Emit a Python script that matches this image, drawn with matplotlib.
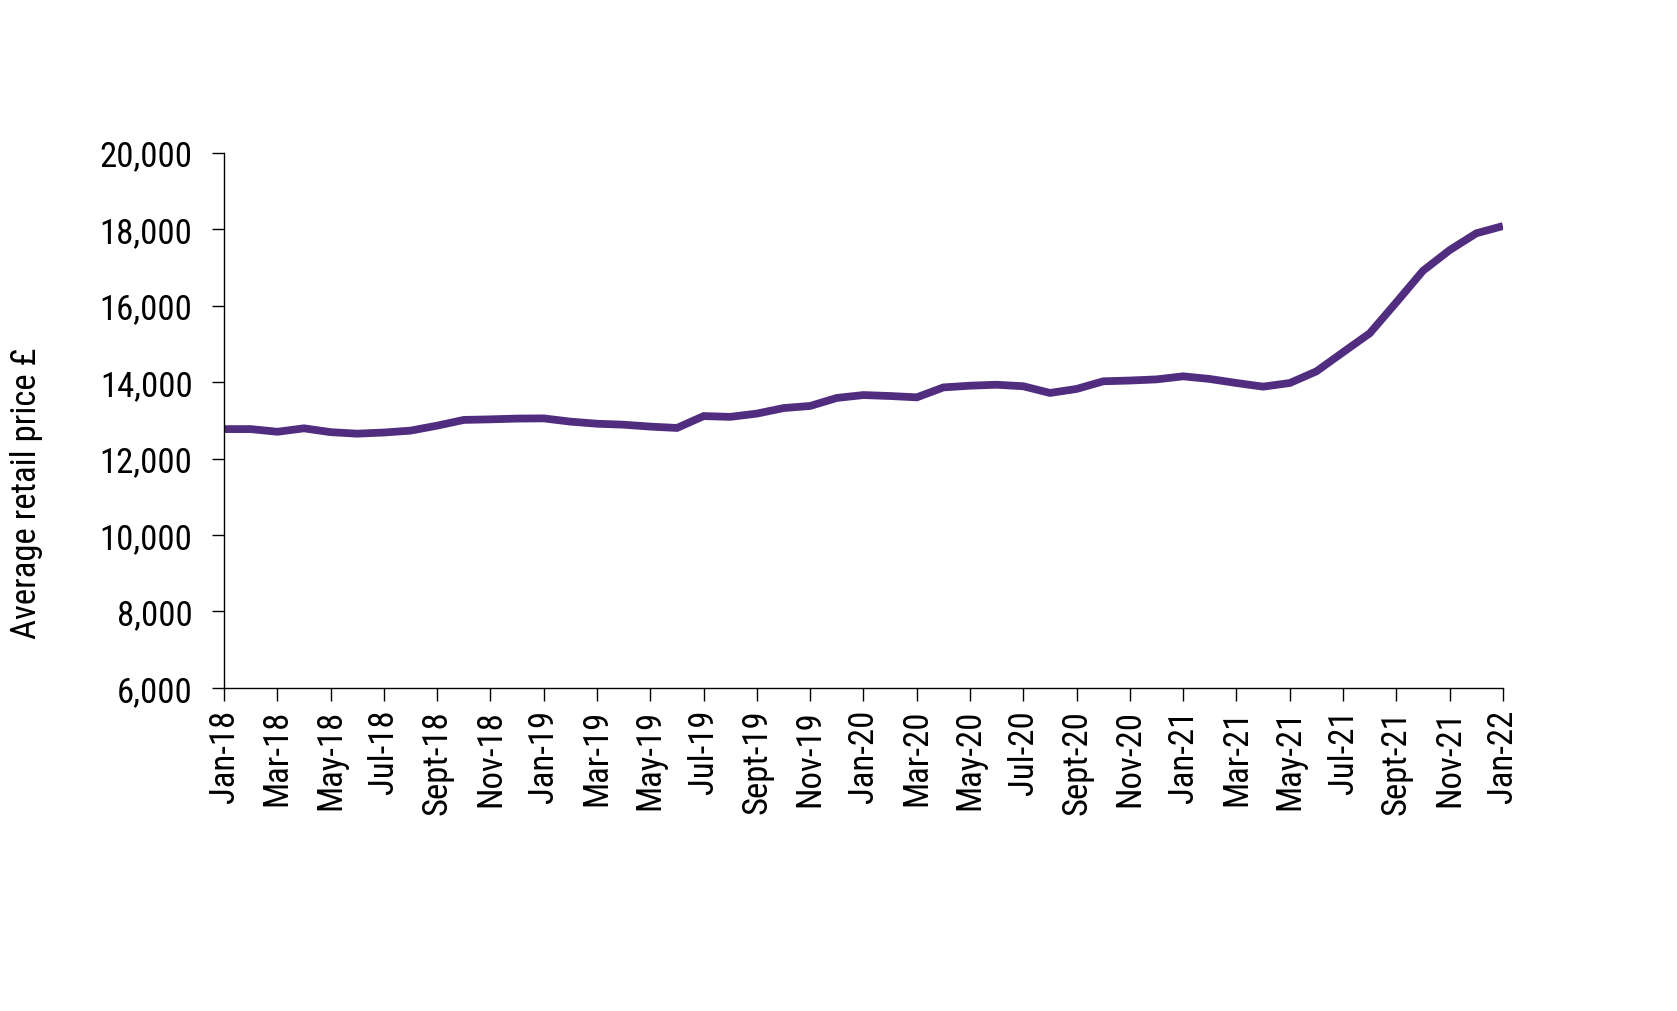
import matplotlib
matplotlib.use("Agg")
import matplotlib.pyplot as plt
from matplotlib import font_manager
import numpy as np

available = {f.name for f in font_manager.fontManager.ttflist}
narrow = [n for n in ['Liberation Sans Narrow', 'Roboto Condensed', 'Open Sans Condensed',
                      'Arial Narrow', 'DejaVu Sans Condensed'] if n in available]
if narrow:
    plt.rcParams['font.family'] = [narrow[0], 'DejaVu Sans']
    FS = 25
else:
    plt.rcParams['font.family'] = ['Liberation Sans', 'DejaVu Sans']
    FS = 23

months = ["Jan-18", "Feb-18", "Mar-18", "Apr-18", "May-18", "Jun-18", "Jul-18", "Aug-18",
          "Sept-18", "Oct-18", "Nov-18", "Dec-18",
          "Jan-19", "Feb-19", "Mar-19", "Apr-19", "May-19", "Jun-19", "Jul-19", "Aug-19",
          "Sept-19", "Oct-19", "Nov-19", "Dec-19",
          "Jan-20", "Feb-20", "Mar-20", "Apr-20", "May-20", "Jun-20", "Jul-20", "Aug-20",
          "Sept-20", "Oct-20", "Nov-20", "Dec-20",
          "Jan-21", "Feb-21", "Mar-21", "Apr-21", "May-21", "Jun-21", "Jul-21", "Aug-21",
          "Sept-21", "Oct-21", "Nov-21", "Dec-21",
          "Jan-22"]

prices = [12770, 12770, 12700, 12790, 12690, 12650, 12680, 12730, 12860, 13010, 13025, 13045,
          13050, 12965, 12910, 12885, 12835, 12800, 13110, 13090, 13175, 13320, 13375, 13585,
          13660, 13635, 13600, 13860, 13905, 13930, 13890, 13715, 13820, 14020, 14040, 14070,
          14150, 14080, 13975, 13880, 13975, 14280, 14780, 15275, 16085, 16910, 17450, 17890,
          18080]

y_ticks = [6000, 8000, 10000, 12000, 14000, 16000, 18000, 20000]

fig = plt.figure(figsize=(16.77, 10.12), dpi=100)
ax = fig.add_axes([0.1336, 0.3192, 0.7626, 0.529])

x = np.arange(len(months))
ax.plot(x, prices, color='#512D80', linewidth=5.6, solid_joinstyle='miter', solid_capstyle='butt')

ax.set_xlim(0, len(months) - 1)
ax.set_ylim(6000, 20000)
ax.set_yticks(y_ticks)
ax.set_yticklabels([f"{v:,}" for v in y_ticks])
ax.set_xticks(x[::2])
ax.set_xticklabels(months[::2], rotation=90)

for s in ['top', 'right']:
    ax.spines[s].set_visible(False)
for s in ['left', 'bottom']:
    ax.spines[s].set_color('black')
    ax.spines[s].set_linewidth(1.0)

ax.tick_params(axis='y', direction='out', length=8.6, width=1.0, pad=14, labelsize=FS, colors='black')
ax.tick_params(axis='x', direction='out', length=9, width=1.0, pad=6, labelsize=FS, colors='black')

fig.text(27 / 1677, 1 - 493 / 1012, "Average retail price £", rotation=90,
         ha='center', va='center', fontsize=FS)

fig.savefig("out.png", dpi=100, facecolor='white')
